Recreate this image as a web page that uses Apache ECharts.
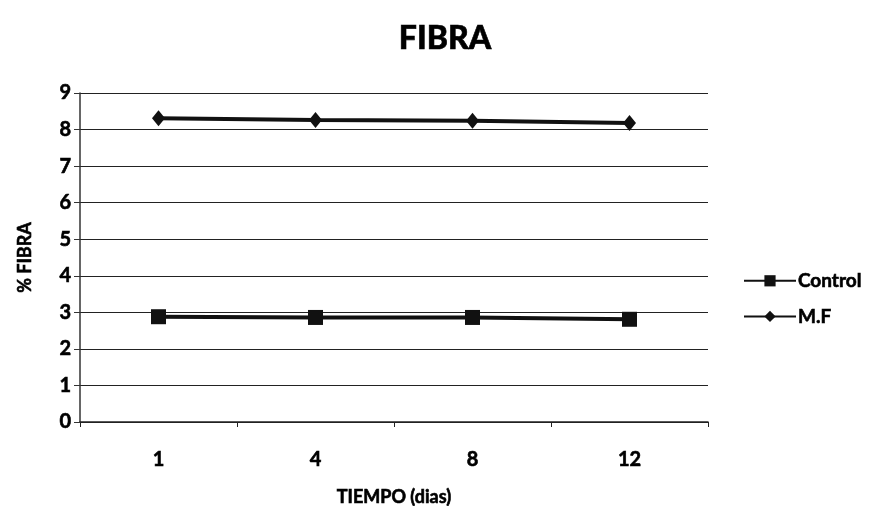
<!DOCTYPE html>
<html><head><meta charset="utf-8">
<script src="https://cdn.jsdelivr.net/npm/echarts@6/dist/echarts.min.js"></script>
<style>html,body{margin:0;padding:0;background:#fff}#c{width:881px;height:506px}</style>
</head><body><div id="c"></div>
<script>
var categories = ['1', '4', '8', '12'];
var controlValues = [2.88, 2.86, 2.86, 2.81];
var mfValues = [8.31, 8.26, 8.24, 8.18];
var yTicks = [0, 1, 2, 3, 4, 5, 6, 7, 8, 9];

var FONT = 'Lato';
var heavy = { textBorderColor: '#000', textBorderWidth: 0.6 };
var chart = echarts.init(document.getElementById('c'));
chart.setOption({
  backgroundColor: '#fff',
  animation: false,
  title: {
    text: 'FIBRA', left: 440, top: 18, textAlign: 'center',
    textStyle: Object.assign({ fontFamily: FONT, fontSize: 32, fontWeight: 900, color: '#000' }, heavy)
  },
  legend: {
    orient: 'vertical', left: 738, top: 266, itemGap: 16, itemWidth: 52, itemHeight: 14,
    textStyle: Object.assign({ fontFamily: FONT, fontSize: 19, fontWeight: 'bold', color: '#000', padding: [0, 0, 0, -3] }, heavy),
    data: ['Control', 'M.F']
  },
  grid: { left: 80, right: 173, top: 93, bottom: 84, containLabel: false, outerBoundsMode: 'none' },
  xAxis: {
    type: 'category', data: categories, boundaryGap: true,
    name: 'TIEMPO (dias)', nameLocation: 'middle', nameGap: 66,
    nameTextStyle: Object.assign({ fontFamily: FONT, fontSize: 18, fontWeight: 'bold', color: '#000' }, heavy),
    axisLine: { lineStyle: { color: '#222', width: 1.5 } },
    axisTick: { show: true, length: 5, lineStyle: { color: '#222' } },
    axisLabel: Object.assign({ fontFamily: FONT, fontSize: 20, fontWeight: 'bold', color: '#000', margin: 28 }, heavy)
  },
  yAxis: {
    type: 'value', min: 0, max: 9, interval: 1,
    name: '% FIBRA', nameLocation: 'middle', nameGap: 46, nameRotate: 90,
    nameTextStyle: Object.assign({ fontFamily: FONT, fontSize: 18, fontWeight: 'bold', color: '#000' }, heavy),
    axisLine: { show: true, lineStyle: { color: '#333', width: 1.5 } },
    axisTick: { show: true, length: 6, inside: false, lineStyle: { color: '#333' } },
    axisLabel: Object.assign({
      fontFamily: FONT, fontSize: 20, fontWeight: 'bold', color: '#000', margin: 9,
      formatter: function (v) { return yTicks.indexOf(v) >= 0 ? String(v) : ''; }
    }, heavy),
    splitLine: { show: true, lineStyle: { color: '#222', width: 1.2 } }
  },
  series: [
    {
      name: 'Control', type: 'line', data: controlValues,
      symbol: 'rect', symbolSize: 15,
      lineStyle: { color: '#111', width: 4 },
      itemStyle: { color: '#111' }
    },
    {
      name: 'M.F', type: 'line', data: mfValues,
      symbol: 'diamond', symbolSize: [13, 16],
      lineStyle: { color: '#111', width: 4 },
      itemStyle: { color: '#111' }
    }
  ]
});
</script></body></html>
